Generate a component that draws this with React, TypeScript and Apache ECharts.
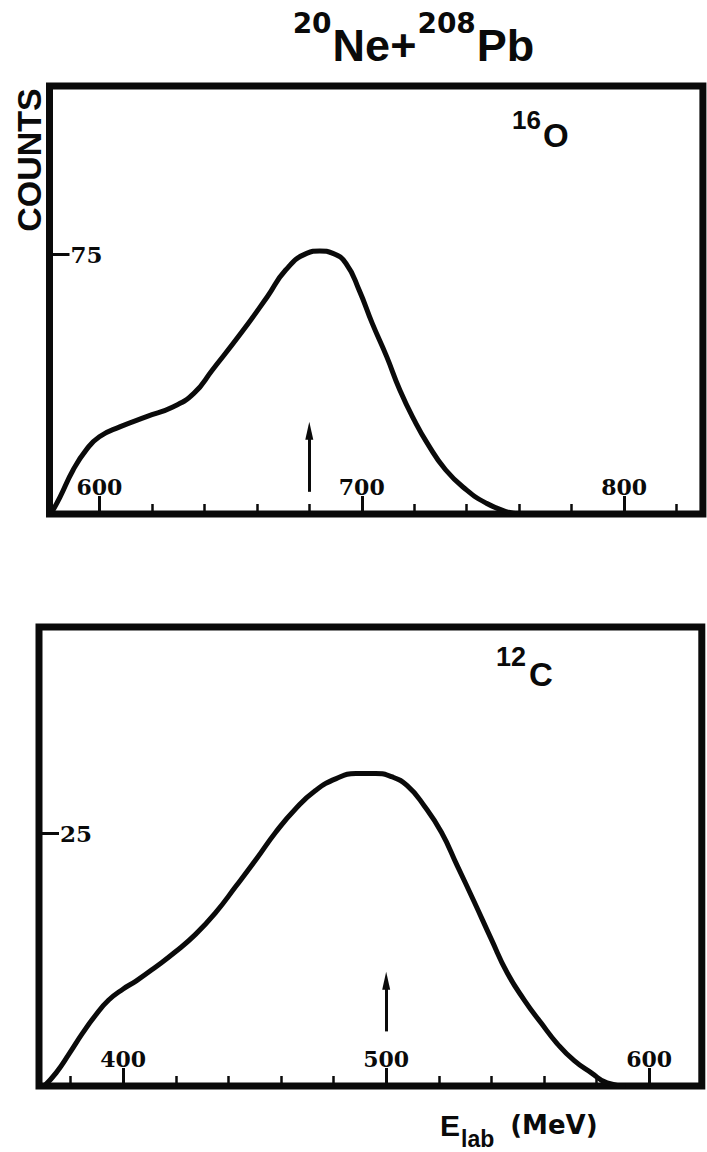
import React, { useEffect, useRef } from "react";
import * as echarts from "echarts";

// ---------- data ----------
// 16O spectrum (top panel)
const oEnergy = [581.5, 585, 590, 595, 600, 608, 618, 628, 636, 643, 654, 664, 671, 679, 684, 689, 694, 699, 704, 709.5, 714.5, 720, 725, 732, 740, 747.5, 755, 760];
const oCounts = [0, 4.9, 12.7, 18.5, 22.3, 25.2, 28.1, 30.9, 34.8, 41.5, 52.2, 62.7, 70.4, 75.2, 75.9, 75.2, 72.3, 64.6, 55.0, 45.4, 35.8, 27.1, 20.4, 12.7, 6.9, 3.1, 0.7, 0];
// 12C spectrum (bottom panel)
const cEnergy = [370, 374.5, 379.5, 384.5, 389.5, 394.5, 400, 405, 412.5, 420, 427.5, 435, 443, 450.5, 458, 465.5, 473, 481, 488.5, 496, 502, 508, 514.5, 521, 527, 533.5, 540, 546, 552.5, 559, 565, 571.5, 578, 584, 591];
const cCounts = [0, 1.3, 3.2, 5.2, 7.0, 8.5, 9.6, 10.4, 11.8, 13.3, 15.0, 17.1, 19.8, 22.4, 25.1, 27.4, 29.2, 30.4, 30.9, 30.9, 30.6, 29.7, 27.7, 25.1, 21.8, 18.2, 14.5, 11.2, 8.5, 6.2, 4.2, 2.5, 1.3, 0.3, 0];

// arrows: [energy, count at foot, count at head]
const oArrow = [680, 6.4, 24.0];
const cArrow = [500, 5.4, 10.4];

// axis ranges
const oXRange = [581, 830];
const oYRange = [0, 123.5];
const cXRange = [368, 620];
const cYRange = [0, 45.4];

// ticks
const oMajorTicks = [600, 700, 800];
const oMinorTicks = [620, 640, 660, 680, 720, 740, 760, 780, 820];
const oYTicks = [75];
const cMajorTicks = [400, 500, 600];
const cMinorTicks = [380, 420, 440, 460, 480, 520, 540, 560, 580];
const cYTicks = [25];

const INK = "#0a0a0a";
const SANS = "'Liberation Sans', Arial, Helvetica, sans-serif";
const WIDE = "'DejaVu Sans', 'Liberation Sans', sans-serif";
const SERIF = "'DejaVu Serif', 'Liberation Serif', serif";

function pairs(xs: number[], ys: number[]) {
  return xs.map((x, i) => [x, ys[i]]);
}

function panelAxes(gridIndex: number, xr: number[], yr: number[], minor: number[], major: number[], yt: number[]) {
  const xMinor = {
    type: "value", gridIndex, min: xr[0], max: xr[1], position: "bottom",
    axisLine: { show: false }, splitLine: { show: false },
    axisTick: { show: true, inside: true, length: 10, customValues: minor, lineStyle: { color: INK, width: 2.5 } },
    axisLabel: { show: false },
  };
  const xMajor = {
    type: "value", gridIndex, min: xr[0], max: xr[1], position: "bottom",
    axisLine: { show: false }, splitLine: { show: false },
    axisTick: { show: true, inside: true, length: 18, customValues: major, lineStyle: { color: INK, width: 3 } },
    axisLabel: {
      show: true, inside: true, margin: 16, customValues: major,
      color: INK, fontFamily: SERIF, fontWeight: "bold", fontSize: 22,
    },
  };
  const y = {
    type: "value", gridIndex, min: yr[0], max: yr[1],
    axisLine: { show: false }, splitLine: { show: false },
    axisTick: { show: true, inside: true, length: 20, customValues: yt, lineStyle: { color: INK, width: 3 } },
    axisLabel: {
      show: true, inside: true, margin: 21, customValues: yt,
      color: INK, fontFamily: SERIF, fontWeight: "bold", fontSize: 23,
    },
  };
  return { xs: [xMinor, xMajor], y };
}

export default function App() {
  const ref = useRef<HTMLDivElement>(null);

  useEffect(() => {
    if (!ref.current) return;
    const chart = echarts.init(ref.current, null, { renderer: "svg" });

    const top = panelAxes(0, oXRange, oYRange, oMinorTicks, oMajorTicks, oYTicks);
    const bot = panelAxes(1, cXRange, cYRange, cMinorTicks, cMajorTicks, cYTicks);

    const curve = (xi: number, yi: number, data: number[][], arrow: number[]) => ({
      type: "line",
      xAxisIndex: xi,
      yAxisIndex: yi,
      data,
      smooth: 0.5,
      showSymbol: false,
      symbol: "none",
      silent: true,
      lineStyle: { color: INK, width: 5 },
      markLine: {
        silent: true,
        symbol: ["none", "triangle"],
        symbolSize: [8, 18],
        label: { show: false },
        lineStyle: { color: INK, width: 3, type: "solid" },
        data: [[{ coord: [arrow[0], arrow[1]] }, { coord: [arrow[0], arrow[2]] }]],
      },
    });

    const option: any = {
      animation: false,
      backgroundColor: "#ffffff",
      grid: [
        { left: 49.5, top: 86, width: 653.4, height: 428, show: true, borderColor: INK, borderWidth: 7, backgroundColor: "transparent" },
        { left: 39, top: 627, width: 662.8, height: 459, show: true, borderColor: INK, borderWidth: 7, backgroundColor: "transparent" },
      ],
      xAxis: [...top.xs, ...bot.xs],
      yAxis: [top.y, bot.y],
      series: [
        curve(0, 0, pairs(oEnergy, oCounts), oArrow),
        curve(2, 1, pairs(cEnergy, cCounts), cArrow),
      ],
      graphic: [
        {
          type: "text", x: 414, y: 9,
          style: {
            text: "{s|20}{b|Ne+}{s|208}{b|Pb}",
            align: "center", verticalAlign: "top",
            rich: {
              s: { fontSize: 28, lineHeight: 28, fontWeight: "bold", fontFamily: WIDE, fill: INK, verticalAlign: "top" },
              b: { fontSize: 45, lineHeight: 45, fontWeight: "bold", fontFamily: SANS, fill: INK, verticalAlign: "top", padding: [14, 1, 0, 1] },
            },
          },
        },
        {
          type: "text", x: 29, y: 160, rotation: Math.PI / 2,
          style: {
            text: "COUNTS", align: "center", verticalAlign: "middle",
            fontSize: 34, fontWeight: "bold", fontFamily: SANS, fill: INK,
          },
        },
        {
          type: "text", x: 512, y: 106.5,
          style: {
            text: "{s|16}{b|O}", align: "left", verticalAlign: "top",
            rich: {
              s: { fontSize: 26, lineHeight: 26, fontWeight: "bold", fontFamily: SANS, fill: INK, verticalAlign: "top" },
              b: { fontSize: 33, lineHeight: 33, fontWeight: "bold", fontFamily: SANS, fill: INK, verticalAlign: "top", padding: [12, 0, 0, 2] },
            },
          },
        },
        {
          type: "text", x: 496, y: 643.5,
          style: {
            text: "{s|12}{b|C}", align: "left", verticalAlign: "top",
            rich: {
              s: { fontSize: 27, lineHeight: 27, fontWeight: "bold", fontFamily: SANS, fill: INK, verticalAlign: "top" },
              b: { fontSize: 33, lineHeight: 33, fontWeight: "bold", fontFamily: SANS, fill: INK, verticalAlign: "top", padding: [14, 0, 0, 3] },
            },
          },
        },
        {
          type: "text", x: 440, y: 1110,
          style: {
            text: "{e|E}{l|lab}{m|(MeV)}", align: "left", verticalAlign: "top",
            rich: {
              e: { fontSize: 30, lineHeight: 30, fontWeight: "bold", fontFamily: SANS, fill: INK, verticalAlign: "top" },
              l: { fontSize: 23, lineHeight: 23, fontWeight: "bold", fontFamily: SANS, fill: INK, verticalAlign: "top", padding: [17, 0, 0, 1] },
              m: { fontSize: 26, lineHeight: 26, fontWeight: "bold", fontFamily: WIDE, fill: INK, verticalAlign: "top", padding: [2, 0, 0, 16] },
            },
          },
        },
      ],
    };

    chart.setOption(option);
    return () => chart.dispose();
  }, []);

  return (
    <div
      ref={ref}
      style={{ position: "absolute", left: 0, top: 0, width: 707, height: 1152, background: "#fff" }}
    />
  );
}
